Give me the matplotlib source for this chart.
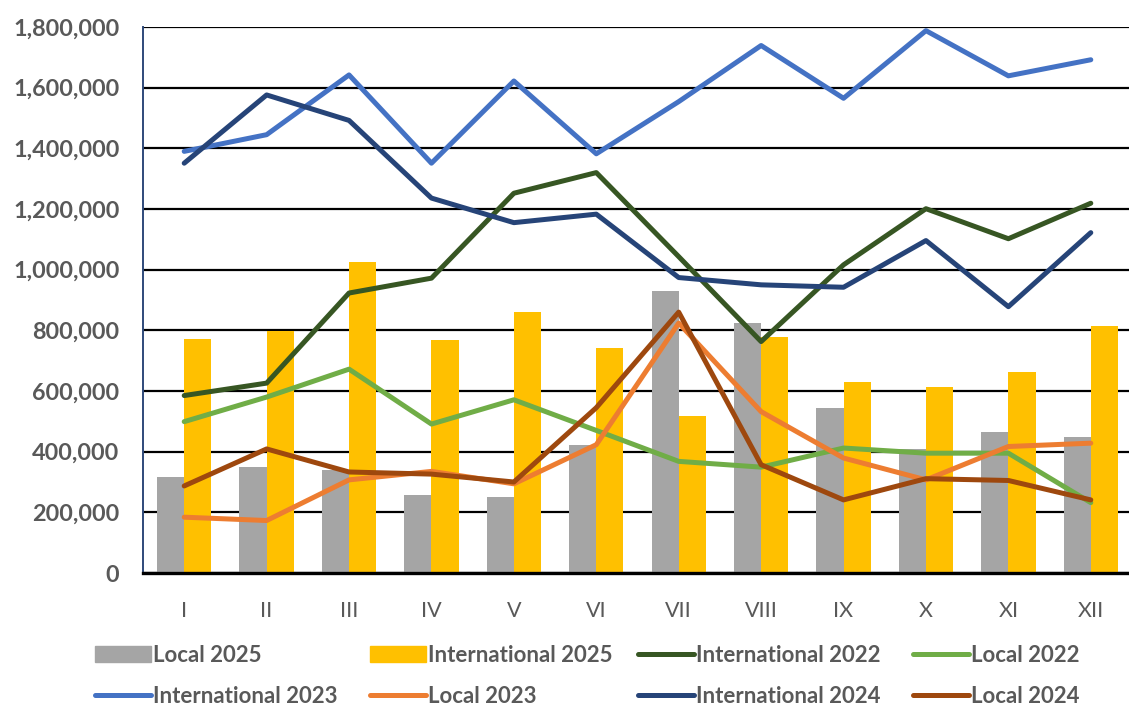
import matplotlib
matplotlib.use("Agg")
import matplotlib.pyplot as plt
import numpy as np
from matplotlib.ticker import FuncFormatter
from matplotlib.patches import Patch
from matplotlib.lines import Line2D

months = ["I", "II", "III", "IV", "V", "VI", "VII", "VIII", "IX", "X", "XI", "XII"]

local_2025 = [316000, 351000, 338000, 258000, 249000, 423000,
              930000, 824000, 544000, 409000, 466000, 447000]
international_2025 = [772000, 798000, 1025000, 769000, 860000, 741000,
                      518000, 778000, 629000, 612000, 664000, 814000]

international_2022 = [585000, 626000, 923000, 972000, 1252000, 1320000,
                      1043000, 763000, 1016000, 1201000, 1102000, 1219000]
local_2022 = [499000, 580000, 672000, 491000, 571000, 470000,
              368000, 349000, 412000, 395000, 395000, 232000]
international_2023 = [1390000, 1445000, 1642000, 1351000, 1622000, 1382000,
                      1554000, 1739000, 1565000, 1788000, 1639000, 1692000]
local_2023 = [184000, 173000, 307000, 335000, 294000, 423000,
              824000, 532000, 379000, 307000, 417000, 428000]
international_2024 = [1351000, 1576000, 1492000, 1236000, 1155000, 1183000,
                      974000, 950000, 942000, 1096000, 878000, 1122000]
local_2024 = [287000, 409000, 333000, 326000, 300000, 545000,
              860000, 357000, 241000, 311000, 305000, 241000]

C_GRAY = "#A5A5A5"
C_GOLD = "#FFC000"
C_INT22 = "#375623"
C_LOC22 = "#70AD47"
C_INT23 = "#4472C4"
C_LOC23 = "#ED7D31"
C_INT24 = "#264478"
C_LOC24 = "#9E480E"
TXT = "#595959"

plt.rcParams["font.family"] = ["Lato", "DejaVu Sans"]

fig = plt.figure(figsize=(11.29, 7.09), dpi=100)
ax = fig.add_axes([143 / 1129, 136 / 709, (1132 - 143) / 1129, (573 - 27) / 709])

x = np.arange(len(months))
bw = 0.33
ax.bar(x - bw / 2, local_2025, width=bw, color=C_GRAY, zorder=2)
ax.bar(x + bw / 2, international_2025, width=bw, color=C_GOLD, zorder=2)

LW = 3.6
line_kw = dict(lw=LW, solid_capstyle="round", solid_joinstyle="round", zorder=3)
ax.plot(x, international_2022, color=C_INT22, **line_kw)
ax.plot(x, local_2022, color=C_LOC22, **line_kw)
ax.plot(x, international_2023, color=C_INT23, **line_kw)
ax.plot(x, local_2023, color=C_LOC23, **line_kw)
ax.plot(x, international_2024, color=C_INT24, **line_kw)
ax.plot(x, local_2024, color=C_LOC24, **line_kw)

ax.set_xlim(-0.5, 11.5)
ax.set_ylim(0, 1800000)
ax.set_yticks(np.arange(0, 1800001, 200000))
ax.yaxis.set_major_formatter(FuncFormatter(lambda v, p: f"{int(v):,}"))
ax.set_xticks(x)
ax.set_xticklabels(months)

ax.grid(axis="y", color="#000000", lw=1.6, zorder=1)
ax.set_axisbelow(True)

for s in ["top", "right"]:
    ax.spines[s].set_visible(False)
ax.spines["left"].set_color("#2F4A7A")
ax.spines["left"].set_linewidth(1.4)
ax.spines["bottom"].set_color("#000000")
ax.spines["bottom"].set_linewidth(2.4)
ax.spines["bottom"].set_zorder(4)

ax.tick_params(axis="y", length=0, pad=17, labelsize=16.8, labelcolor=TXT)
ax.tick_params(axis="x", length=0, pad=20, labelsize=15.5, labelcolor=TXT)
for lbl in ax.get_yticklabels():
    lbl.set_fontweight("bold")

# legend: four columns placed individually, two rows each
def line_handle(color, label):
    return Line2D([], [], color=color, lw=LW, solid_capstyle="round", label=label)

columns = [
    [Patch(color=C_GRAY, label="Local 2025"), line_handle(C_INT23, "International 2023")],
    [Patch(color=C_GOLD, label="International 2025"), line_handle(C_LOC23, "Local 2023")],
    [line_handle(C_INT22, "International 2022"), line_handle(C_INT24, "International 2024")],
    [line_handle(C_LOC22, "Local 2022"), line_handle(C_LOC24, "Local 2024")],
]
col_x = [95, 370, 638, 913]
for cx, handles in zip(col_x, columns):
    fig.legend(handles=handles, loc="upper left",
               bbox_to_anchor=(cx / 1129, 1 - 645 / 709),
               frameon=False, ncol=1, handlelength=2.5, handletextpad=0.1,
               labelspacing=0.9, borderpad=0, borderaxespad=0,
               prop={"weight": "bold", "size": 16, "family": ["Lato", "DejaVu Sans"]},
               labelcolor=TXT)

fig.savefig("out.png", dpi=100)
